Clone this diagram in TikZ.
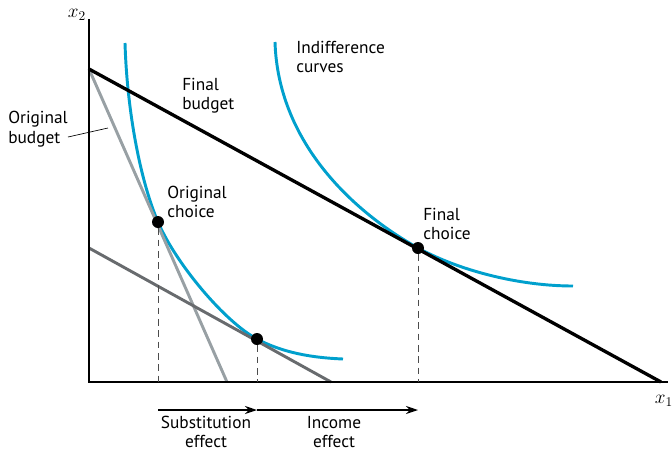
\documentclass[tikz,border=0pt]{standalone}
\usepackage{fontspec}
\setmainfont{PT Sans}
\usetikzlibrary{arrows.meta}
\definecolor{icblue}{RGB}{0,160,205}
\definecolor{oldgray}{RGB}{152,160,164}
\definecolor{pivgray}{RGB}{104,107,110}

\begin{document}
\begin{tikzpicture}[x=0.75pt,y=-0.75pt,>=Stealth,
  lbl/.style={align=left,anchor=west,inner sep=0pt,font=\fontsize{13}{14.5}\selectfont},
  lblc/.style={align=center,inner sep=0pt,font=\fontsize{13}{14.5}\selectfont},
  axlbl/.style={inner sep=0pt,font=\fontsize{14}{16}\selectfont},
  icurve/.style={icblue,line width=2.2pt},
  dot/.style={circle,fill=black,inner sep=0pt,minimum size=9pt},
  drop/.style={gray!60!black,line width=0.6pt,dash pattern=on 5pt off 3.5pt},
  effarrow/.style={line width=1.1pt,-{Stealth[length=9pt,width=6pt]}}]
  \useasboundingbox (0,0) rectangle (672,451);
  % axes
  \coordinate (O) at (89,382);
  \coordinate (ytop) at (89,19);
  \coordinate (xend) at (668,382);
  \node[axlbl] (xtwo) at (77,15) {$x_2$};
  \node[axlbl] (xone) at (664,401) {$x_1$};
  % indifference curves
  \draw[icurve] (125,43) .. controls (127,110) and (140,180) .. (158,222)
    .. controls (176,264) and (225,322) .. (257,339)
    .. controls (287,355) and (320,358) .. (343,359);
  \draw[icurve] (275,42) .. controls (278,140) and (350,210) .. (418,248)
    .. controls (460,271) and (520,286) .. (573,286);
  % budget lines
  \coordinate (top) at (89,69);
  \draw[oldgray,line width=2.2pt] (top) -- (227,382);
  \draw[pivgray,line width=2.2pt] (89,248) -- (331,382);
  \draw[line width=2.5pt] (top) -- (661,382);
  \draw[line width=1.8pt] (ytop) -- (O) -- (xend);
  % choices
  \node[dot] (orig) at (158,222) {};
  \node[dot] (mid) at (257,339) {};
  \node[dot] (fin) at (418,248) {};
  \draw[drop] (orig) -- (orig |- O);
  \draw[drop] (mid) -- (mid |- O);
  \draw[drop] (fin) -- (fin |- O);
  % effects
  \coordinate (sA) at (158,410);
  \coordinate (sB) at (257,410);
  \coordinate (sC) at (418,410);
  \draw[effarrow] (sA) -- (sB);
  \draw[effarrow] (sB) -- (sC);
  \node[lblc] (subst) at (206,432) {Substitution\\effect};
  \node[lblc] (income) at (334,432) {Income\\effect};
  % labels
  \node[lbl] (origbud) at (8,129) {Original\\budget};
  \draw[line width=0.5pt] (68,137) -- (108,128);
  \node[lbl] (finbud) at (182,96) {Final\\budget};
  \node[lbl] (indiff) at (296,57) {Indifference\\curves};
  \node[lbl] (finch) at (423,224) {Final\\choice};
  \node[lbl] (origch) at (167,202) {Original\\choice};
\end{tikzpicture}
\end{document}
